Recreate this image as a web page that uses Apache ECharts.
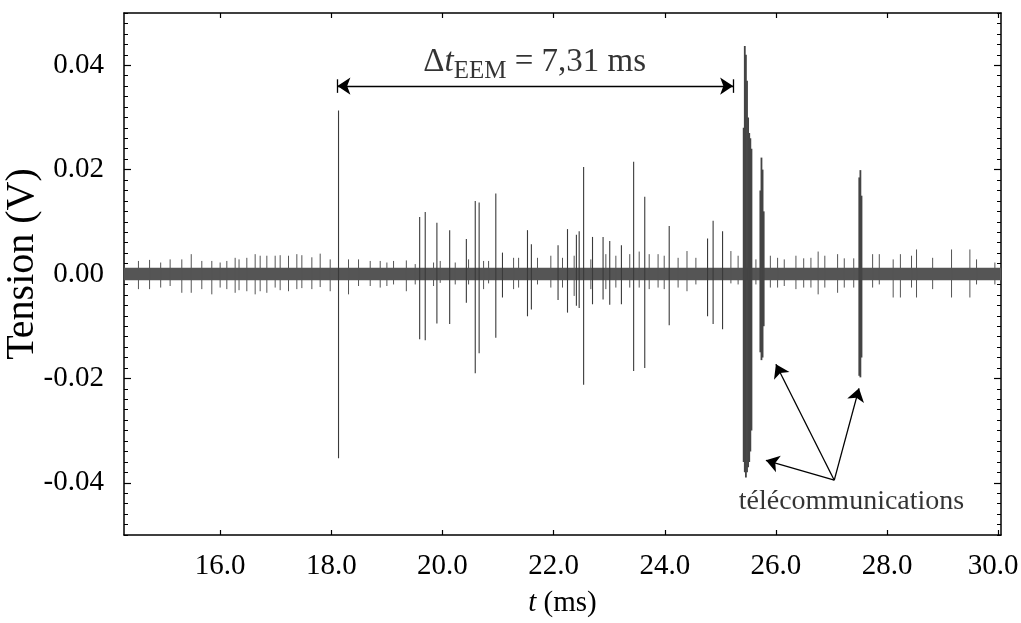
<!DOCTYPE html>
<html><head><meta charset="utf-8">
<script src="https://cdn.jsdelivr.net/npm/echarts@6/dist/echarts.min.js"></script>
<style>html,body{margin:0;padding:0;background:#fff}#c{width:1021px;height:623px}</style>
</head><body><div id="c"></div>
<script>
// ---- data ----
const xTicks = [16, 18, 20, 22, 24, 26, 28, 30];
const yTicks = [-0.04, -0.02, 0, 0.02, 0.04];
const xRange = [14.27, 30.05];
const yRange = [-0.05, 0.05];
// background noise band [tStart, tEnd, upper, lower]
const noiseBand = [[14.27, 30.05, 0.0012, -0.0012]];
// small spikes [t, up, down]
const smallSpikes = [
  [14.53,.0025,-.0029],[14.73,.0027,-.0029],[14.93,.0022,-.0026],[15.10,.0028,-.0023],
  [15.31,.0028,-.0036],[15.48,.0038,-.0036],[15.67,.0025,-.0029],[15.85,.0025,-.0039],
  [16.00,.0022,-.0026],[16.12,.0025,-.0029],[16.27,.0031,-.0036],[16.34,.0028,-.0031],
  [16.48,.0031,-.0033],[16.63,.0038,-.0039],[16.72,.0035,-.0033],[16.84,.0035,-.0036],
  [16.99,.0035,-.0026],[17.08,.0036,-.0031],[17.23,.0035,-.0033],[17.38,.0038,-.0029],
  [17.47,.0036,-.0027],[17.65,.0032,-.0029],[17.80,.0039,-.0025],[17.98,.0028,-.0033],
  [18.31,.0028,-.0039],[18.49,.0028,-.0023],[18.70,.0025,-.0023],[18.88,.0025,-.0026],
  [19.00,.0022,-.0023],[19.12,.0025,-.0020],[19.35,.0026,-.0033],[19.51,.0019,-.0020],
  [19.84,.0022,-.0023],[19.96,.0025,-.0017],[20.23,.0022,-.0020],[20.47,.0028,-.0020],
  [20.74,.0025,-.0029],[20.83,.0025,-.0018],[21.28,.0031,-.0029],[21.37,.0031,-.0026],
  [21.71,.0031,-.0020],[21.95,.0035,-.0026],[22.16,.0031,-.0026],[22.37,.0035,-.0042],
  [22.67,.0028,-.0029],[22.94,.0038,-.0029],[23.12,.0035,-.0026],[23.37,.0038,-.0026],
  [23.54,.0043,-.0026],[23.72,.0038,-.0029],[23.88,.0038,-.0026],[23.99,.0035,-.0029],
  [24.24,.0031,-.0026],[24.40,.0044,-.0033],[24.56,.0031,-.0020],[25.19,.0044,-.0018],
  [25.32,.0035,-.0020],[25.64,.0028,-.0020],[25.90,.0035,-.0026],[26.03,.0031,-.0026],
  [26.15,.0028,-.0023],[26.36,.0035,-.0029],[26.50,.0030,-.0026],[26.63,.0031,-.0026],
  [26.76,.0043,-.0039],[26.88,.0035,-.0026],[27.11,.0038,-.0036],[27.23,.0030,-.0026],
  [27.40,.0030,-.0026],[27.74,.0038,-.0026],[27.86,.0038,-.0020],[28.11,.0028,-.0045],
  [28.24,.0038,-.0045],[28.44,.0035,-.0026],[28.53,.0047,-.0045],[28.82,.0031,-.0029],
  [29.16,.0047,-.0045],[29.49,.0047,-.0045],[29.61,.0028,-.0020],[29.94,.0022,-.0020]
];
// isolated larger spikes [t, up, down]
const mediumSpikes = [
  [18.13,.0313,-.0353],
  [19.59,.0109,-.0125],[19.69,.0119,-.0127],[19.90,.0098,-.0095],[20.13,.0084,-.0096],
  [20.43,.0067,-.0055],[20.59,.0140,-.0190],[20.66,.0137,-.0152],[20.96,.0154,-.0122],
  [21.08,.0041,-.0045],[21.53,.0084,-.0081],[21.60,.0057,-.0068],[22.08,.0055,-.0050],
  [22.25,.0086,-.0074],[22.41,.0075,-.0061],[22.46,.0082,-.0065],[22.54,.0205,-.0212],
  [22.70,.0071,-.0058],[22.89,.0071,-.0049],[23.01,.0063,-.0059],[23.22,.0055,-.0058],
  [23.44,.0215,-.0186],[23.64,.0148,-.0180],[24.08,.0092,-.0098],
  [24.77,.0068,-.0081],[24.87,.0102,-.0096],[25.04,.0082,-.0106]
];
// telecommunication bursts [t, up, down]
const bursts = [
  [25.42,.0280,-.0360],[25.44,.0437,-.0380],[25.46,.0420,-.0390],[25.48,.0370,-.0380],
  [25.50,.0300,-.0370],[25.52,.0270,-.0360],[25.54,.0260,-.0340],[25.56,.0240,-.0300],
  [25.72,.0160,-.0150],[25.74,.0223,-.0165],[25.76,.0200,-.0160],[25.78,.0120,-.0100],
  [27.50,.0185,-.0195],[27.52,.0199,-.0198],[27.54,.0150,-.0160]
];
// annotations
const deltaArrow = [[18.11, 0.036], [25.23, 0.036]];
const deltaLabelPos = [21.66, 0.0405];
const telecomOrigin = [27.05, -0.0395];
const telecomTips = [[26.00, -0.0173], [27.495, -0.0219], [25.82, -0.0357]];
const telecomLabelPos = [27.36, -0.0437];
const telecomText = 'télécommunications';

const FONT = 'Liberation Serif';
const chart = echarts.init(document.getElementById('c'), null, {renderer: 'canvas'});

function spikeRenderer(color, width) {
  return function (params, api) {
    const t = api.value(0);
    const p1 = api.coord([t, api.value(1)]);
    const p2 = api.coord([t, api.value(2)]);
    return {type: 'line', shape: {x1: p1[0], y1: p1[1], x2: p2[0], y2: p2[1]},
      style: {stroke: color, lineWidth: width}};
  };
}
function bandRenderer(params, api) {
  const a = api.coord([api.value(0), api.value(2)]);
  const b = api.coord([api.value(1), api.value(3)]);
  return {type: 'rect', shape: {x: a[0], y: a[1], width: b[0] - a[0], height: b[1] - a[1]},
    style: {fill: '#555'}};
}

const markLines = [
  [{coord: deltaArrow[0], symbol: 'arrow'}, {coord: deltaArrow[1], symbol: 'arrow'}],
  [{coord: [deltaArrow[0][0], deltaArrow[0][1] - 0.0013], symbol: 'none'}, {coord: [deltaArrow[0][0], deltaArrow[0][1] + 0.0013], symbol: 'none'}],
  [{coord: [deltaArrow[1][0], deltaArrow[1][1] - 0.0013], symbol: 'none'}, {coord: [deltaArrow[1][0], deltaArrow[1][1] + 0.0013], symbol: 'none'}]
].concat(telecomTips.map(tip => [{coord: telecomOrigin, symbol: 'none'}, {coord: tip, symbol: 'arrow'}]));

const tickFont = {fontFamily: FONT, fontSize: 29, color: '#000'};
const lastX = xTicks[xTicks.length - 1];

chart.setOption({
  animation: false,
  backgroundColor: '#fff',
  grid: {left: 124, right: 20, top: 13, bottom: 88, outerBoundsMode: 'none', containLabel: false},
  xAxis: [{
    type: 'value', min: xRange[0], max: xRange[1], position: 'bottom',
    axisLine: {show: true, onZero: false, lineStyle: {color: '#000', width: 1.5}},
    axisTick: {show: true, inside: true, length: 5, customValues: xTicks, lineStyle: {color: '#000', width: 1.2}},
    axisLabel: Object.assign({customValues: xTicks, margin: 17,
      formatter: v => v === lastX ? '{r|' + v.toFixed(1) + '}' : v.toFixed(1),
      rich: {r: {fontFamily: FONT, fontSize: 29, color: '#000', padding: [0, 10, 0, 0]}}}, tickFont),
    splitLine: {show: false},
    name: '{i|t} (ms)', nameLocation: 'middle', nameGap: 54,
    nameTextStyle: {fontFamily: FONT, fontSize: 29, color: '#000',
      rich: {i: {fontFamily: FONT, fontSize: 29, fontStyle: 'italic', color: '#000'}}}
  }, {
    type: 'value', min: xRange[0], max: xRange[1], position: 'top',
    axisLine: {show: true, onZero: false, lineStyle: {color: '#000', width: 1.5}},
    axisTick: {show: true, inside: true, length: 5, customValues: xTicks, lineStyle: {color: '#000', width: 1.2}},
    axisLabel: {show: false}, splitLine: {show: false}
  }],
  yAxis: [{
    type: 'value', min: yRange[0], max: yRange[1], position: 'left',
    axisLine: {show: true, onZero: false, lineStyle: {color: '#000', width: 1.5}},
    axisTick: {show: true, inside: true, length: 7, customValues: yTicks, lineStyle: {color: '#000', width: 1.2}},
    axisLabel: Object.assign({customValues: yTicks, margin: 20, formatter: v => v.toFixed(2)}, tickFont),
    splitLine: {show: false},
    name: 'Tension (V)', nameLocation: 'middle', nameGap: 82, nameRotate: 90, nameMoveOverlap: false,
    nameTextStyle: {fontFamily: FONT, fontSize: 40, color: '#000', padding: [0, 0, 0, 20]}
  }, {
    type: 'value', min: yRange[0], max: yRange[1], interval: 0.002, position: 'left',
    axisLine: {show: false, onZero: false}, axisLabel: {show: false}, splitLine: {show: false},
    axisTick: {show: true, inside: true, length: 4, lineStyle: {color: '#000', width: 1}}
  }, {
    type: 'value', min: yRange[0], max: yRange[1], position: 'right',
    axisLine: {show: true, onZero: false, lineStyle: {color: '#000', width: 1.5}},
    axisTick: {show: true, inside: true, length: 7, customValues: yTicks, lineStyle: {color: '#000', width: 1.2}},
    axisLabel: {show: false}, splitLine: {show: false}
  }, {
    type: 'value', min: yRange[0], max: yRange[1], interval: 0.002, position: 'right',
    axisLine: {show: false, onZero: false}, axisLabel: {show: false}, splitLine: {show: false},
    axisTick: {show: true, inside: true, length: 4, lineStyle: {color: '#000', width: 1}}
  }],
  series: [{
    type: 'custom', name: 'noise', renderItem: bandRenderer, data: noiseBand,
    encode: {x: [0, 1], y: [2, 3]}, silent: true, clip: true
  }, {
    type: 'custom', name: 'small', renderItem: spikeRenderer('#555', 1), data: smallSpikes,
    encode: {x: 0, y: [1, 2]}, silent: true, clip: true
  }, {
    type: 'custom', name: 'medium', renderItem: spikeRenderer('#3a3a3a', 1.1), data: mediumSpikes,
    encode: {x: 0, y: [1, 2]}, silent: true, clip: true
  }, {
    type: 'custom', name: 'bursts', renderItem: spikeRenderer('#444', 1.8), data: bursts,
    encode: {x: 0, y: [1, 2]}, silent: true, clip: true
  }, {
    type: 'scatter', name: 'annotations', symbolSize: 0, silent: true,
    data: [
      {value: deltaLabelPos, label: {show: true, position: 'inside',
        formatter: '{a|Δ}{i|t}{s|EEM}{a| = 7,31 ms}',
        rich: {
          a: {fontFamily: FONT, fontSize: 33, color: '#000'},
          i: {fontFamily: FONT, fontSize: 33, fontStyle: 'italic', color: '#000'},
          s: {fontFamily: FONT, fontSize: 25, color: '#000', padding: [17, 0, 0, 0]}
        }}},
      {value: telecomLabelPos, label: {show: true, position: 'inside', formatter: telecomText,
        fontFamily: FONT, fontSize: 28, color: '#000'}}
    ],
    markLine: {
      silent: true, animation: false,
      symbolSize: 13,
      label: {show: false},
      lineStyle: {color: '#000', width: 1.3, type: 'solid'},
      emphasis: {disabled: true},
      data: markLines
    }
  }]
});
</script></body></html>
